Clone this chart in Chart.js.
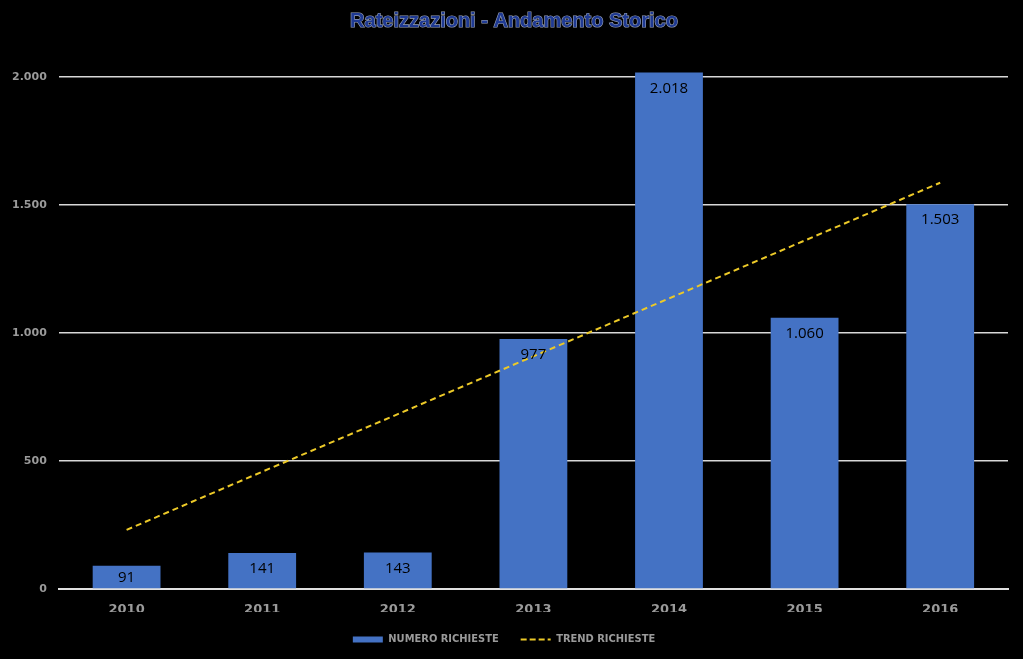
<!DOCTYPE html>
<html>
<head>
<meta charset="utf-8">
<script src="https://cdn.jsdelivr.net/npm/chart.js@4.4.0/dist/chart.umd.min.js"></script>
<style>
  html, body { margin: 0; padding: 0; background: #000; }
  #wrap { width: 1023px; height: 659px; }
</style>
</head>
<body>
<div id="wrap"><canvas id="chart"></canvas></div>
<script>
// dati
const anni = ['2010', '2011', '2012', '2013', '2014', '2015', '2016'];
const numeroRichieste = [91, 141, 143, 977, 2018, 1060, 1503];
const trendRichieste = [231, 458, 683, 909, 1135, 1361, 1587];
const tickY = [0, 500, 1000, 1500, 2000];

// separatore migliaia con il punto
const fmt = v => String(v).replace(/\B(?=(\d{3})+(?!\d))/g, '.');

// etichette dentro le barre
const etichetteBarre = {
    id: 'etichetteBarre',
    afterDatasetsDraw(chart) {
        const ctx = chart.ctx;
        const meta = chart.getDatasetMeta(0);
        ctx.save();
        ctx.font = '15px "Open Sans", sans-serif';
        ctx.fillStyle = '#000';
        ctx.textAlign = 'center';
        ctx.textBaseline = 'middle';
        meta.data.forEach((bar, i) => {
            const top = bar.y, base = bar.base;
            const y = Math.min(top + 16, (top + base) / 2 + 1);
            ctx.fillText(fmt(numeroRichieste[i]), bar.x, y);
        });
        ctx.restore();
    }
};

// titolo con contorno chiaro
const titolo = {
    id: 'titolo',
    afterDraw(chart) {
        const ctx = chart.ctx;
        ctx.save();
        ctx.font = 'bold 20px "Liberation Sans", Arial, sans-serif';
        ctx.textAlign = 'center';
        ctx.textBaseline = 'middle';
        ctx.lineWidth = 1.2;
        ctx.strokeStyle = '#9aa3b8';
        ctx.fillStyle = '#1f3a93';
        ctx.strokeText('Rateizzazioni - Andamento Storico', 514, 21);
        ctx.fillText('Rateizzazioni - Andamento Storico', 514, 21);
        ctx.restore();
    }
};

const ctx = document.getElementById('chart').getContext('2d');
new Chart(ctx, {
    type: 'bar',
    data: {
        labels: anni,
        datasets: [
            {
                label: 'NUMERO RICHIESTE',
                data: numeroRichieste,
                backgroundColor: '#4472c4',
                borderWidth: 0,
                barPercentage: 0.5,
                categoryPercentage: 1,
                pointStyle: 'rect',
                clip: false,
                order: 2
            },
            {
                type: 'line',
                label: 'TREND RICHIESTE',
                data: trendRichieste,
                borderColor: '#ecc928',
                backgroundColor: '#ecc928',
                borderWidth: 2,
                borderDash: [6, 4],
                pointRadius: 0,
                pointStyle: 'line',
                fill: false,
                tension: 0,
                order: 1
            }
        ]
    },
    options: {
        responsive: true,
        maintainAspectRatio: false,
        animation: false,
        layout: { padding: { top: 77, right: 15, left: 0, bottom: 4 } },
        plugins: {
            title: { display: false },
            tooltip: { enabled: false },
            legend: {
                position: 'bottom',
                labels: {
                    usePointStyle: true,
                    pointStyleWidth: 30,
                    boxHeight: 6,
                    padding: 22,
                    color: '#9a9a9a',
                    font: { family: '"DejaVu Sans Condensed", "DejaVu Sans", sans-serif', size: 11, weight: 'bold' },
                    sort: (a, b) => a.datasetIndex - b.datasetIndex,
                    generateLabels: chart => {
                        const items = Chart.defaults.plugins.legend.labels.generateLabels(chart);
                        items.forEach(it => {
                            const ds = chart.data.datasets[it.datasetIndex];
                            if (ds.type === 'line') {
                                it.lineDash = [6, 3];
                                it.strokeStyle = ds.borderColor;
                                it.lineWidth = 2;
                            }
                        });
                        return items;
                    }
                }
            }
        },
        scales: {
            x: {
                grid: { display: false },
                border: { display: true, color: '#e0e0e0', width: 2 },
                afterFit: axis => { axis.height = 23; },
                ticks: {
                    color: '#9a9a9a',
                    padding: 5,
                    font: { family: '"DejaVu Sans", sans-serif', size: 13, weight: 'bold' }
                }
            },
            y: {
                min: 0,
                max: 2000,
                afterBuildTicks: axis => { axis.ticks = tickY.map(v => ({ value: v })); },
                grid: { color: '#d8d8d8', lineWidth: 1.5, drawTicks: false },
                border: { display: false },
                ticks: {
                    color: '#9a9a9a',
                    padding: 12,
                    callback: v => fmt(v),
                    font: { family: '"DejaVu Sans", sans-serif', size: 11, weight: 'bold' }
                }
            }
        }
    },
    plugins: [etichetteBarre, titolo]
});
</script>
</body>
</html>
